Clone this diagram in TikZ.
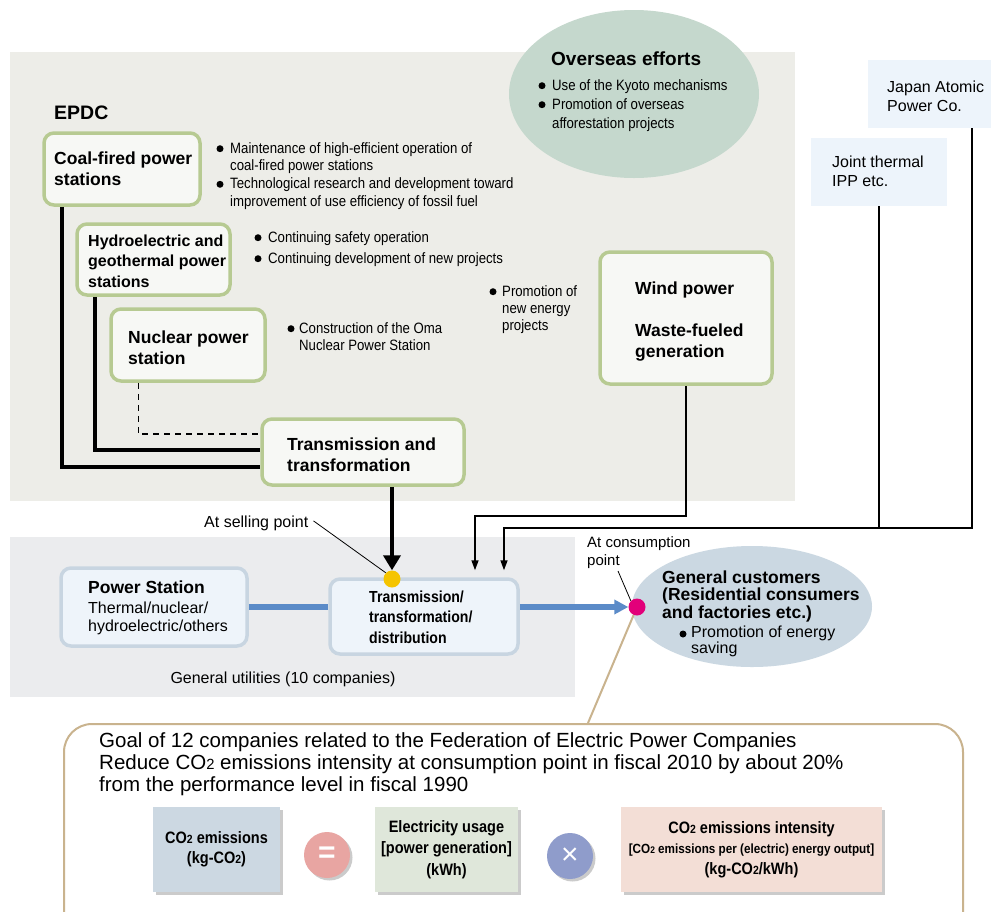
\documentclass[tikz,border=0pt]{standalone}
\usepackage{fontspec}
\setmainfont{Liberation Sans}
\newfontfamily\cond[FakeStretch=0.88]{Liberation Sans}
\usetikzlibrary{shapes.geometric,arrows.meta,shadows,calc}
\definecolor{panelA}{RGB}{237,237,232}
\definecolor{panelB}{RGB}{235,236,238}
\definecolor{boxgreen}{RGB}{183,202,146}
\definecolor{boxfill}{RGB}{247,248,245}
\definecolor{bluebd}{RGB}{200,213,225}
\definecolor{bluefill}{RGB}{238,244,250}
\definecolor{ovsfill}{RGB}{197,216,205}
\definecolor{custfill}{RGB}{203,216,226}
\definecolor{ippfill}{RGB}{237,244,251}
\definecolor{bluelncol}{RGB}{91,139,200}
\definecolor{ydotcol}{RGB}{245,196,0}
\definecolor{mdotcol}{RGB}{226,0,122}
\definecolor{tanln}{RGB}{201,179,142}
\definecolor{co2fill}{RGB}{204,216,226}
\definecolor{elecfill}{RGB}{223,231,218}
\definecolor{intfill}{RGB}{243,222,214}
\definecolor{eqfill}{RGB}{232,165,162}
\definecolor{mulfill}{RGB}{143,156,203}
\newcommand\fsz[2]{\fontsize{#1}{#2}\selectfont}
\newcommand\stwo{\scalebox{0.72}{2}}
\begin{document}
\begin{tikzpicture}[x=1pt,y=-1pt,
  gbox/.style={draw=boxgreen,line width=3.5pt,rounded corners=10pt,fill=boxfill,inner sep=0},
  bbox/.style={draw=bluebd,line width=3.5pt,rounded corners=10pt,fill=bluefill,inner sep=0},
  ipp/.style={fill=ippfill,inner sep=0},
  txt/.style={inner sep=0,anchor=base west,align=left},
  btxt/.style={txt,font=\bfseries\fsz{17.5}{21}},
  ctxt/.style={txt,font=\cond\fsz{15}{17.8}},
  rtxt/.style={txt,font=\fsz{16}{19}},
  heavy/.style={line width=4pt},
  thinarr/.style={line width=1.5pt,-{Triangle[length=10pt,width=7pt]}},
  bigarr/.style={line width=4.5pt,-{Triangle[length=15pt,width=17pt]}},
  bluepipe/.style={line width=5.5pt,draw=bluelncol},
  eqbox/.style={inner sep=0,font=\cond\bfseries\fsz{16.5}{20.5},align=center,
    drop shadow={shadow xshift=2.5pt,shadow yshift=-2.5pt,fill=black!40}},
  opcirc/.style={circle,inner sep=0,minimum size=46pt,text=white,
    drop shadow={shadow xshift=2.5pt,shadow yshift=-2.5pt,fill=black!40}},
]
\useasboundingbox (0,0) rectangle (991,911);
\clip (0,0) rectangle (991,911);
\fill[white] (0,0) rectangle (991,911);
% panels (multi-line text nodes are placed at the baseline of their last line)
\fill[panelA] (10,52) rectangle (795,501);
\fill[panelB] (10,537) rectangle (575,697);

% overseas
\node[ellipse,fill=ovsfill,minimum width=250pt,minimum height=168pt,inner sep=0] (ovs) at (634,94) {};
\node[btxt,font=\bfseries\fsz{19}{22}] (ovst) at (551,65) {Overseas efforts};
\node[ctxt,font=\cond\fsz{15}{19}] (ovsb) at (552,128) {Use of the Kyoto mechanisms\\Promotion of overseas\\afforestation projects};
\fill (542,85.7) circle (3.5pt);
\fill (542,104.7) circle (3.5pt);

% IPP boxes
\node[ipp,minimum width=132pt,minimum height=68pt] (japan) at (934,94) {};
\node[rtxt] (japant) at (887,111) {Japan Atomic\\Power Co.};
\node[ipp,minimum width=136pt,minimum height=68pt] (joint) at (879,172) {};
\node[rtxt] (jointt) at (832,186) {Joint thermal\\IPP etc.};

% EPDC
\node[btxt,font=\bfseries\fsz{19.5}{22}] (epdc) at (54,119) {EPDC};
\node[gbox,minimum width=156pt,minimum height=72pt] (coal) at (122,169) {};
\node[btxt] (coalt) at (54,185) {Coal-fired power\\stations};
\node[gbox,minimum width=153pt,minimum height=71pt] (hydro) at (153.5,259.5) {};
\node[btxt,font=\bfseries\fsz{16}{20.5}] (hydrot) at (88,287) {Hydroelectric and\\geothermal power\\stations};
\node[gbox,minimum width=154pt,minimum height=72pt] (nuc) at (188,345) {};
\node[btxt] (nuct) at (128,364) {Nuclear power\\station};
\node[gbox,minimum width=202pt,minimum height=66pt] (trans) at (363,452) {};
\node[btxt] (transt) at (287,471) {Transmission and\\transformation};
\node[gbox,minimum width=172pt,minimum height=132pt] (wind) at (686,318) {};
\node[btxt] (windt) at (635,294) {Wind power};
\node[btxt] (wastet) at (635,357) {Waste-fueled\\generation};

% bullet texts
\node[ctxt] (coalb) at (230,206.4) {Maintenance of high-efficient operation of\\coal-fired power stations\\Technological research and development toward\\improvement of use efficiency of fossil fuel};
\fill (220,148.7) circle (3.5pt);
\fill (220,184.3) circle (3.5pt);
\node[ctxt,font=\cond\fsz{15}{21}] (hydrob) at (268,263) {Continuing safety operation\\Continuing development of new projects};
\fill (258,237.7) circle (3.5pt);
\fill (258,258.7) circle (3.5pt);
\node[ctxt] (nucb) at (299,350.8) {Construction of the Oma\\Nuclear Power Station};
\fill (291,328.7) circle (3.5pt);
\node[ctxt,font=\cond\fsz{15}{17}] (newb) at (502,330) {Promotion of\\new energy\\projects};
\fill (493,291.7) circle (3.5pt);

% EPDC connectors
\draw[heavy] ([xshift=20pt]coal.south west) |- ([yshift=-15pt]trans.west);
\draw[heavy] ([xshift=20pt]hydro.south west) |- ([yshift=2pt]trans.west);
\draw[line width=1.5pt,dash pattern=on 6pt off 5pt] ([xshift=29pt]nuc.south west) |- ([yshift=18pt]trans.west);

% general utilities
\node[bbox,minimum width=186pt,minimum height=78pt] (ps) at (154,607) {};
\node[txt,font=\bfseries\fsz{17.5}{20}] (pst) at (88,593) {Power Station};
\node[rtxt,font=\fsz{16}{18}] (pst2) at (88,631) {Thermal/nuclear/\\hydroelectric/others};
\node[bbox,minimum width=188pt,minimum height=75pt] (tdist) at (424,616.5) {};
\node[txt,font=\cond\bfseries\fsz{16}{20.5}] (tdistt) at (369,643) {Transmission/\\transformation/\\distribution};
\node[font=\fsz{16}{19},inner sep=0,anchor=base] (gut) at (283,683) {General utilities (10 companies)};

% customers
\node[ellipse,fill=custfill,minimum width=240pt,minimum height=121pt,inner sep=0] (cust) at (752,606.5) {};
\node[txt,font=\bfseries\fsz{17.5}{17.5}] (custt) at (662,618) {General customers\\(Residential consumers\\and factories etc.)};
\node[rtxt,font=\fsz{16}{14.5}] (custb) at (691,653) {Promotion of energy\\saving};
\fill (683,634) circle (3.5pt);

% goal box
\node[draw=tanln,line width=2pt,rounded corners=28pt,fill=white,minimum width=899pt,minimum height=240pt,anchor=north west,inner sep=0] (goal) at (63,723) {};
\node[txt,font=\fsz{20.5}{22}] (goalt) at (99,791) {Goal of 12 companies related to the Federation of Electric Power Companies\\Reduce CO\stwo{} emissions intensity at consumption point in fiscal 2010 by about 20\%\\from the performance level in fiscal 1990};
\node[eqbox,fill=co2fill,minimum width=127pt,minimum height=85pt] (co2) at (216.5,849.5) {CO\stwo{} emissions\\(kg-CO\stwo)};
\node[opcirc,fill=eqfill,font=\bfseries\fsz{30}{30}] (eq) at (327,855) {\raisebox{-2pt}{=}};
\node[eqbox,fill=elecfill,minimum width=143pt,minimum height=85pt,font=\cond\bfseries\fsz{16.5}{21.5}] (elec) at (446.5,849.5) {Electricity usage\\{}[power generation]\\(kWh)};
\node[opcirc,fill=mulfill,font=\fsz{30}{30}] (mul) at (570,856) {×};
\node[eqbox,fill=intfill,minimum width=261pt,minimum height=85pt] (int) at (751.5,849.5) {CO\stwo{} emissions intensity\\{\fsz{13.3}{20}[CO\stwo{} emissions per (electric) energy output]}\\(kg-CO\stwo/kWh)};

% points and leaders
\node[circle,fill=ydotcol,minimum size=17pt,inner sep=0] (ydot) at (392,579) {};
\node[circle,fill=mdotcol,minimum size=17pt,inner sep=0] (cdot) at (637,607) {};
\node[txt,font=\fsz{16}{19}] (sellt) at (204,527) {At selling point};
\node[txt,font=\fsz{15}{18}] (const) at (587,565) {At consumption\\point};
\coordinate (c1) at (618,571);
\coordinate (g1) at (588,723);
\draw[line width=0.8pt] ([xshift=5pt,yshift=2pt]sellt.east) -- (ydot.north west);
\draw[line width=0.8pt] (c1) -- (cdot.north west);
\draw[tanln,line width=2pt] (cdot) -- (g1);

% flows
\draw[bigarr] ([xshift=29pt]trans.south) -- (ydot.north);
\coordinate (w1) at (475,516);
\coordinate (w2) at (504,528);
\draw[thinarr] (wind.south) |- (w1) -- ($(w1 |- tdist.north)+(0,-7)$);
\draw[thinarr] ([xshift=38pt]japan.south) |- (w2) -- ($(w2 |- tdist.north)+(0,-7)$);
\draw[line width=1.5pt] (joint.south) -- (joint.south |- w2);
\draw[bluepipe] (ps.east) -- (ps.east -| tdist.west);
\draw[bluepipe,-{Triangle[length=14pt,width=14pt]}] (tdist.east |- ps.east) -- (cdot.west);
\end{tikzpicture}
\end{document}
